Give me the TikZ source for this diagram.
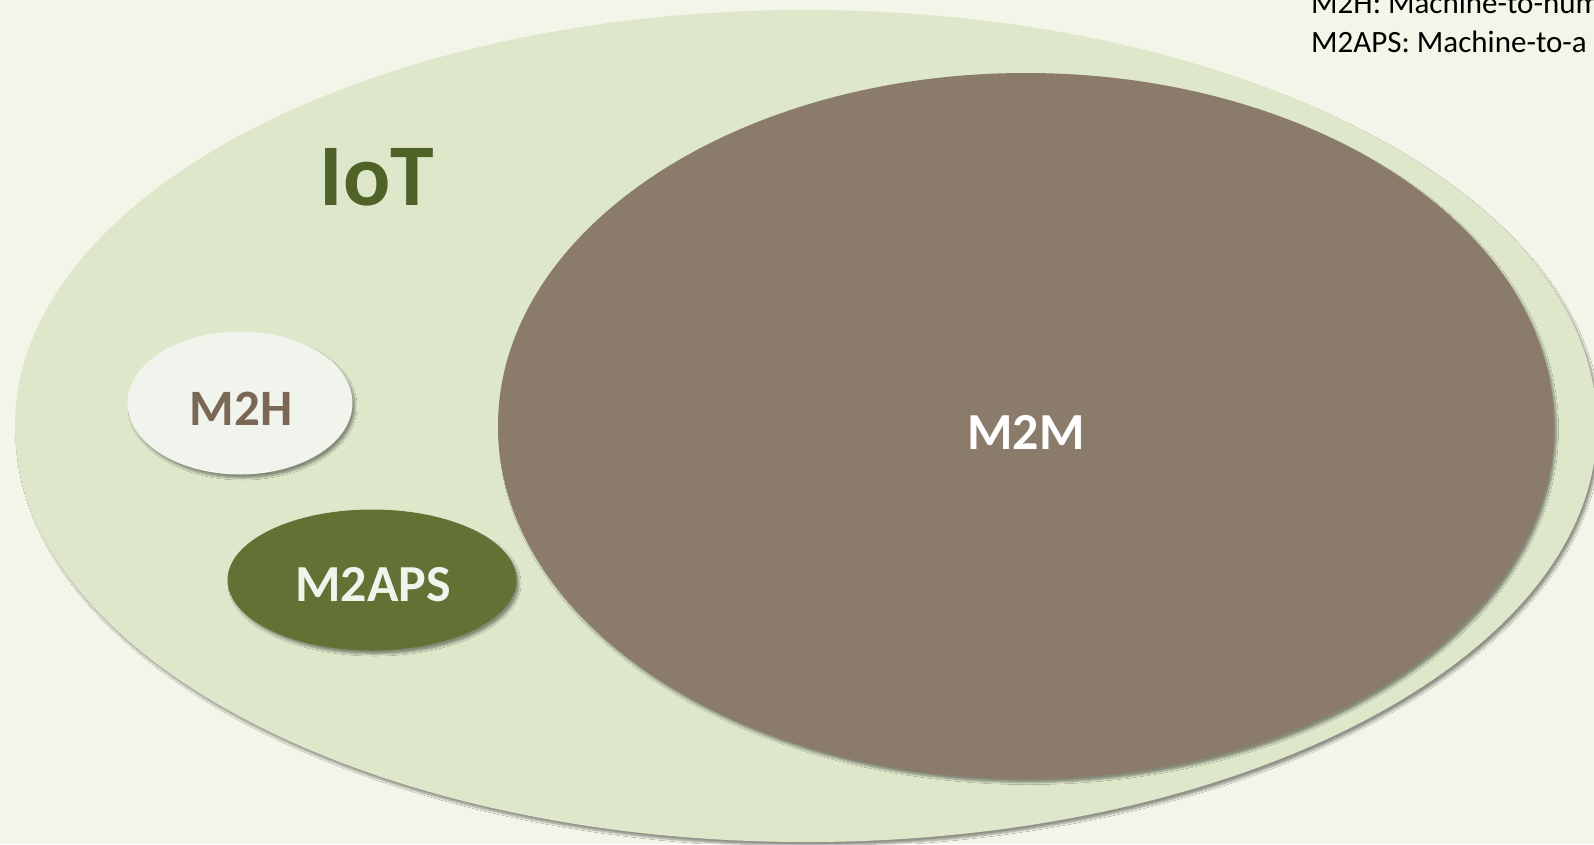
\documentclass[tikz,border=0pt]{standalone}
\usepackage{fontspec}
\setmainfont{Carlito}
\usetikzlibrary{shapes.geometric,shadows.blur}
\definecolor{pagebg}{HTML}{F2F5E7}
\definecolor{iotfill}{HTML}{DEE7CA}
\definecolor{iottext}{HTML}{4F6228}
\definecolor{mmfill}{HTML}{8B7B6A}
\definecolor{mhfill}{HTML}{F1F4EC}
\definecolor{mhtext}{HTML}{7A6756}
\definecolor{mapsfill}{HTML}{617234}
\definecolor{lighttext}{HTML}{F1F4EC}
\tikzset{
  blob/.style={ellipse, inner sep=0pt, outer sep=0pt, draw=none,
    blur shadow={shadow xshift=2.5pt, shadow yshift=-3.5pt, shadow blur radius=2pt,
      shadow blur steps=8, shadow opacity=40}},
  bigword/.style={font=\bfseries\fontsize{#1}{#1}\selectfont, inner sep=0pt},
  legend/.style={font=\fontsize{31}{31}\selectfont, anchor=base west, inner sep=0pt, text=black}
}
\begin{document}
\begin{tikzpicture}[x=1pt, y=-1pt]
  \useasboundingbox (0,0) rectangle (1594,844);
  \clip (0,0) rectangle (1594,844);
  \fill[pagebg] (0,0) rectangle (1594,844);

  % the IoT domain and the sets it contains
  \node[blob, fill=iotfill, minimum width=1582pt, minimum height=832pt] (iot) at (806,426) {};
  \node[blob, fill=mmfill, minimum width=1056pt, minimum height=706pt] (m2m) at (1026,426) {};
  \node[blob, fill=mhfill, minimum width=225pt, minimum height=143pt] (m2h) at (240,403) {};
  \node[blob, fill=mapsfill, minimum width=289pt, minimum height=141pt] (m2aps) at (372,580) {};

  % labels
  \node[bigword=88, text=iottext] (iotlabel) at (377,177) {IoT};
  \node[bigword=52, text=white] (m2mlabel) at (1026,432) {M2M};
  \node[bigword=51, text=mhtext] (m2hlabel) at (241,409) {M2H};
  \node[bigword=52, text=lighttext] (m2apslabel) at (373,585) {M2APS};

  % abbreviation key, running past the right edge
  \node[legend] (key1) at (1311,13) {M2H: Machine-to-hum};
  \node[legend] (key2) at (1311,52) {M2APS: Machine-to-a};
\end{tikzpicture}
\end{document}
